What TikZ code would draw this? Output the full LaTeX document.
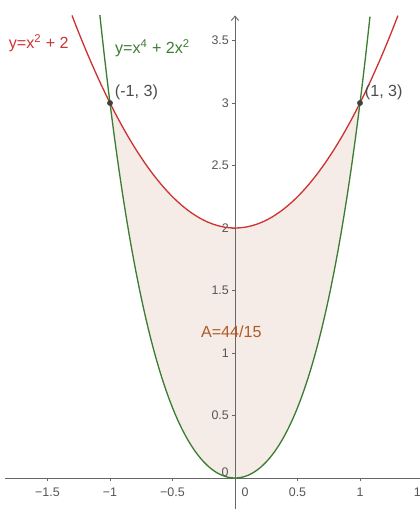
\documentclass[tikz,border=0pt]{standalone}
\usepackage{fontspec}
\setmainfont{Liberation Sans}
\usetikzlibrary{arrows.meta,positioning}
\definecolor{CurveRed}{HTML}{CC3333}
\definecolor{CurveGreen}{HTML}{3C7D32}
\definecolor{AreaFill}{HTML}{F5ECE8}
\definecolor{AreaText}{HTML}{B05A28}
\definecolor{AxisGray}{HTML}{666666}
\definecolor{TickText}{HTML}{555555}
\tikzset{
    % Axes and ticks
    axis line/.style={
        draw=AxisGray,
        line width=0.6pt
    },
    axis arrow/.style={
        axis line,
        -{Straight Barb[length=3pt,width=5pt]}
    },
    tick mark/.style={
        draw=AxisGray,
        line width=0.5pt
    },
    tick label/.style={
        font=\fontsize{8.5}{10}\selectfont,
        text=TickText,
        inner sep=1pt
    },
    % Curves and area
    curve red/.style={
        draw=CurveRed,
        line width=0.9pt
    },
    curve green/.style={
        draw=CurveGreen,
        line width=0.9pt
    },
    area/.style={
        fill=AreaFill
    },
    % Points and labels
    point/.style={
        circle,
        fill=black!75,
        inner sep=0pt,
        minimum size=4pt
    },
    point label/.style={
        font=\fontsize{11}{13}\selectfont,
        text=black!70,
        inner sep=1pt
    },
    curve label/.style={
        font=\fontsize{11}{13}\selectfont,
        inner sep=1pt
    }
}
\begin{document}
\begin{tikzpicture}[x=3cm, y=3cm]
        \useasboundingbox (-1.88,-0.248) rectangle (1.48,3.824);

        % Shaded area between the curves
        \fill[area] plot[domain=-1:1, samples=80] (\x,{(\x)^4+2*(\x)^2})
            -- plot[domain=1:-1, samples=80] (\x,{(\x)^2+2}) -- cycle;

        % Axes
        \coordinate (xmin) at (-1.84,0);
        \coordinate (xmax) at (1.55,0);
        \coordinate (ymin) at (0,-0.26);
        \coordinate (ymax) at (0,3.70);
        \draw[axis line] (xmin) -- (xmax);
        \draw[axis arrow] (ymin) -- (ymax);

        % Ticks on the x-axis
        \foreach \v/\t in {-1.5/−1.5, -1/−1, -0.5/−0.5, 0.5/0.5, 1/1, 1.5/1.5} {
            \draw[tick mark] (\v,0) -- (\v,-0.025);
            \node[tick label] at (\v,-0.112) {\t};
        }
        \node[tick label] (xzero) at (0.08,-0.112) {0};

        % Ticks on the y-axis
        \foreach \v in {0.5,1,1.5,2,2.5,3,3.5} {
            \draw[tick mark] (0,\v) -- (-0.025,\v);
            \node[tick label, anchor=east] at (-0.035,\v) {\v};
        }
        \node[tick label] (yzero) at (-0.08,0.05) {0};

        % Curves
        \draw[curve red] plot[domain=-1.304:1.304, samples=100] (\x,{(\x)^2+2});
        \draw[curve green] plot[domain=-1.081:1.081, samples=120] (\x,{(\x)^4+2*(\x)^2});

        % Intersection points
        \node[point] (pleft) at (-1,3) {};
        \node[point] (pright) at (1,3) {};
        \node[point label, right=0pt of pleft, yshift=7pt] (lleft) {(-1, 3)};
        \node[point label, right=0pt of pright, yshift=7pt] (lright) {(1, 3)};

        % Curve labels and area
        \node[curve label, text=CurveRed] (fred) at (-1.57,3.48) {y=x\textsuperscript{2} + 2};
        \node[curve label, text=CurveGreen] (fgreen) at (-0.66,3.44) {y=x\textsuperscript{4} + 2x\textsuperscript{2}};
        \node[curve label, text=AreaText] (area) at (-0.03,1.17) {A=44/15};
    \end{tikzpicture}
\end{document}
